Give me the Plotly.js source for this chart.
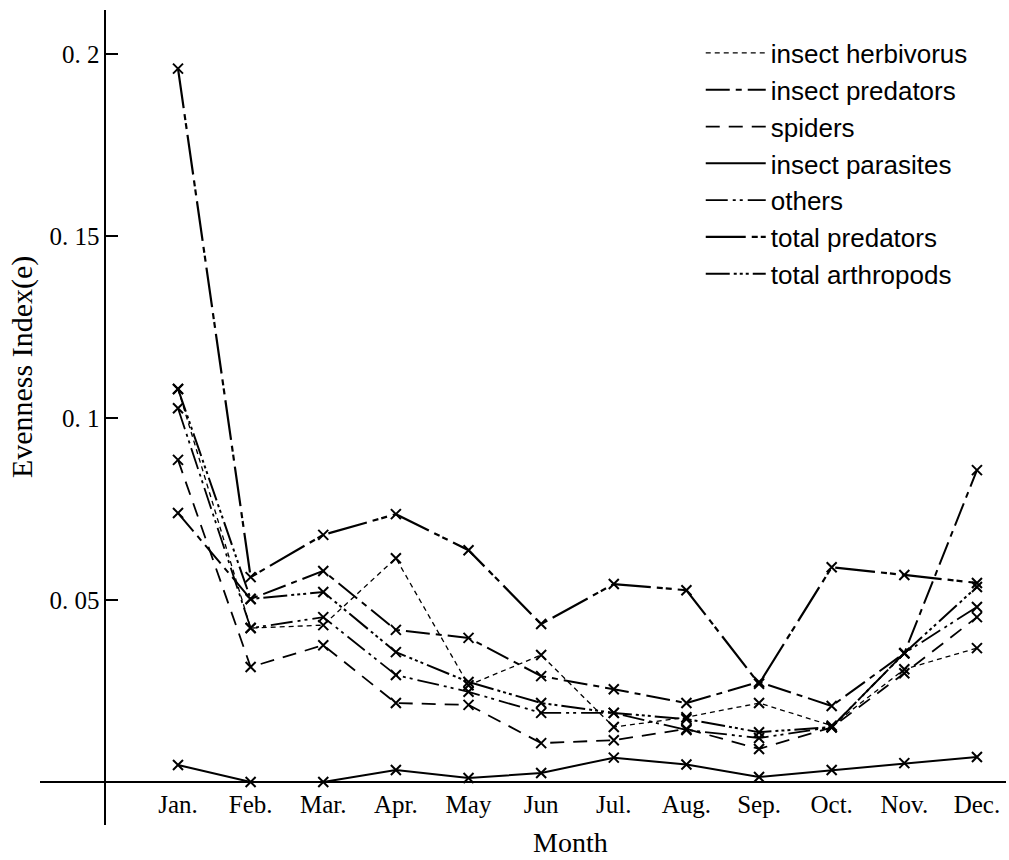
<!DOCTYPE html>
<html>
<head>
<meta charset="utf-8">
<script src="https://cdn.plot.ly/plotly-3.0.1.min.js"></script>
<style>html,body{margin:0;padding:0;background:#fff;}#chart{width:1009px;height:860px;}</style>
</head>
<body>
<div id="chart"></div>
<script>
const months = ['Jan.','Feb.','Mar.','Apr.','May','Jun','Jul.','Aug.','Sep.','Oct.','Nov.','Dec.'];
const insectHerbivorus = [0.1080, 0.0423, 0.0431, 0.0615, 0.0266, 0.0349, 0.0151, 0.0178, 0.0217, 0.0155, 0.0310, 0.0368];
const insectPredators  = [0.0739, 0.0503, 0.0580, 0.0418, 0.0396, 0.0291, 0.0255, 0.0217, 0.0275, 0.0209, 0.0354, 0.0857];
const spiders          = [0.0885, 0.0316, 0.0376, 0.0217, 0.0212, 0.0107, 0.0115, 0.0146, 0.0091, 0.0150, 0.0299, 0.0453];
const insectParasites  = [0.0047, 0.0000, 0.0000, 0.0033, 0.0011, 0.0025, 0.0067, 0.0048, 0.0014, 0.0033, 0.0052, 0.0069];
const others           = [0.1027, 0.0423, 0.0453, 0.0294, 0.0248, 0.0190, 0.0190, 0.0143, 0.0121, 0.0151, 0.0354, 0.0481];
const totalPredators   = [0.1960, 0.0563, 0.0679, 0.0736, 0.0637, 0.0434, 0.0544, 0.0527, 0.0270, 0.0590, 0.0569, 0.0547];
const totalArthropods  = [0.1080, 0.0503, 0.0522, 0.0357, 0.0275, 0.0217, 0.0190, 0.0173, 0.0137, 0.0151, 0.0354, 0.0536];
const yTickVals = [0.05, 0.1, 0.15, 0.2];
const yTickText = ['0. 05', '0. 1', '0. 15', '0. 2'];

const seriesDefs = [
  {name: 'insect herbivorus', y: insectHerbivorus, dash: '5px,4px', width: 1.3},
  {name: 'insect predators',  y: insectPredators,  dash: '24px,6px,6px,6px', width: 2},
  {name: 'spiders',           y: spiders,          dash: '14px,9px', width: 1.8},
  {name: 'insect parasites',  y: insectParasites,  dash: 'solid', width: 2},
  {name: 'others',            y: others,           dash: '22px,5px,3px,4px,3px,5px', width: 1.8},
  {name: 'total predators',   y: totalPredators,   dash: '40px,6px,6px,3px,6px,6px', width: 2.2},
  {name: 'total arthropods',  y: totalArthropods,  dash: '24px,4px,3px,3px,3px,3px,3px,4px', width: 2}
];

const traces = [];
seriesDefs.forEach(s => {
  traces.push({
    x: months, y: s.y, type: 'scatter', mode: 'lines+markers', name: s.name,
    showlegend: false,
    line: {color: '#000', width: s.width, dash: s.dash},
    marker: {symbol: 'x-thin', size: 10, color: '#000', line: {color: '#000', width: 2}}
  });
});
seriesDefs.forEach(s => {
  traces.push({
    x: [null], y: [null], type: 'scatter', mode: 'lines', name: s.name,
    showlegend: true, hoverinfo: 'skip',
    line: {color: '#000', width: s.width, dash: s.dash}
  });
});

const serif = '"Liberation Serif", "DejaVu Serif", serif';
const layout = {
  width: 1009, height: 860,
  margin: {l: 40, r: 3, t: 10, b: 35},
  paper_bgcolor: '#fff', plot_bgcolor: '#fff',
  showlegend: true,
  legend: {
    x: 0.684, y: 0.976, xanchor: 'left', yanchor: 'top',
    bgcolor: 'rgba(0,0,0,0)', borderwidth: 0,
    itemwidth: 60,
    font: {family: '"Liberation Sans", Arial, sans-serif', size: 26, color: '#000'}
  },
  xaxis: {
    type: 'category', range: [-1.9, 11.4],
    anchor: 'free', position: 0.0527,
    showline: true, linecolor: '#000', linewidth: 2,
    showgrid: false, zeroline: false, ticks: '',
    tickfont: {family: serif, size: 25, color: '#000'}
  },
  yaxis: {
    range: [-0.0118, 0.2121],
    anchor: 'free', position: 0.0677,
    showline: true, linecolor: '#000', linewidth: 2,
    showgrid: false, zeroline: false,
    ticks: 'inside', ticklen: 12, tickwidth: 2, tickcolor: '#000',
    tickvals: yTickVals, ticktext: yTickText,
    tickfont: {family: serif, size: 25, color: '#000'}
  },
  annotations: [
    {text: 'Month', xref: 'paper', yref: 'paper', x: 0.549, y: -0.022, xanchor: 'center', yanchor: 'middle',
     showarrow: false, font: {family: serif, size: 28, color: '#000'}},
    {text: 'Evenness Index(e)', xref: 'paper', yref: 'paper', x: -0.0185, y: 0.562, xanchor: 'center', yanchor: 'middle',
     textangle: -90, showarrow: false, font: {family: serif, size: 30, color: '#000'}}
  ]
};

Plotly.newPlot('chart', traces, layout, {displayModeBar: false, staticPlot: true});
</script>
</body>
</html>
